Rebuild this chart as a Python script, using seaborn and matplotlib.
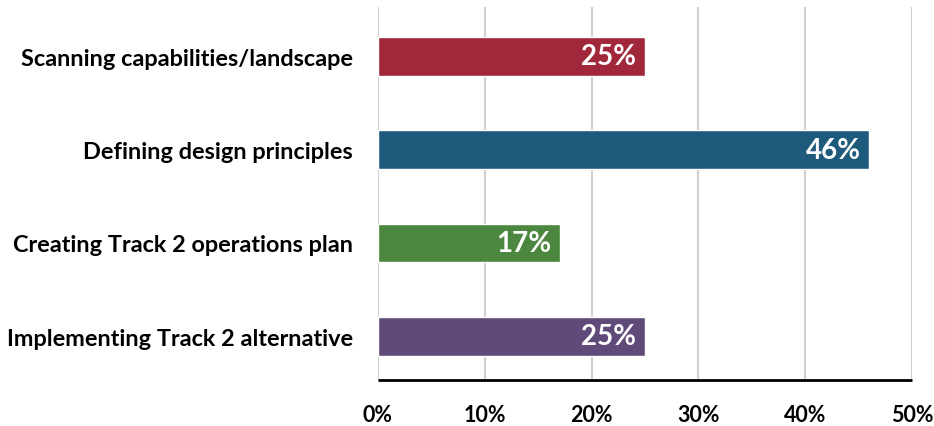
import matplotlib
matplotlib.use("Agg")
import matplotlib.pyplot as plt
import seaborn as sns
import pandas as pd

categories = [
    "Scanning capabilities/landscape",
    "Defining design principles",
    "Creating Track 2 operations plan",
    "Implementing Track 2 alternative",
]
values = [25, 46, 17, 25]
colors = ["#A0283A", "#1E5A7C", "#4B873F", "#5F4A7A"]
x_ticks = [0, 10, 20, 30, 40, 50]
x_tick_labels = ["0%", "10%", "20%", "30%", "40%", "50%"]

sns.set_theme(style="white")
plt.rcParams["font.family"] = ["Lato", "DejaVu Sans"]

df = pd.DataFrame({"task": categories, "pct": values})

fig = plt.figure(figsize=(9.34, 4.27), dpi=100)
ax = fig.add_axes([0.4047, 0.1077, 0.9764 - 0.4047, 0.9813 - 0.1077])

sns.barplot(data=df, x="pct", y="task", hue="task", palette=colors,
            order=categories, hue_order=categories, width=0.415,
            legend=False, ax=ax, saturation=1)

ax.set_xlim(0, 50)
ax.set_ylim(3.47, -0.53)
ax.set_xticks(x_ticks)
ax.set_xticklabels(x_tick_labels, fontsize=15.5, fontweight="bold", color="black")
ax.tick_params(axis="x", direction="in", length=7, width=1.5, color="black", pad=17)
ax.tick_params(axis="y", length=0, pad=18, labelsize=16.9)
for lbl in ax.get_yticklabels():
    lbl.set_fontweight("bold")
    lbl.set_color("black")
ax.set_xlabel("")
ax.set_ylabel("")

ax.grid(axis="x", color="#D0D0D0", linewidth=1.5)
ax.set_axisbelow(True)
for side in ["top", "right", "left"]:
    ax.spines[side].set_visible(False)
ax.spines["bottom"].set_color("black")
ax.spines["bottom"].set_linewidth(2)
ax.spines["bottom"].set_capstyle("butt")

for i, v in enumerate(values):
    ax.text(v - 0.8, i, f"{v}%", ha="right", va="center", color="white",
            fontsize=20, fontweight="bold")

fig.savefig("out.png", dpi=100)
